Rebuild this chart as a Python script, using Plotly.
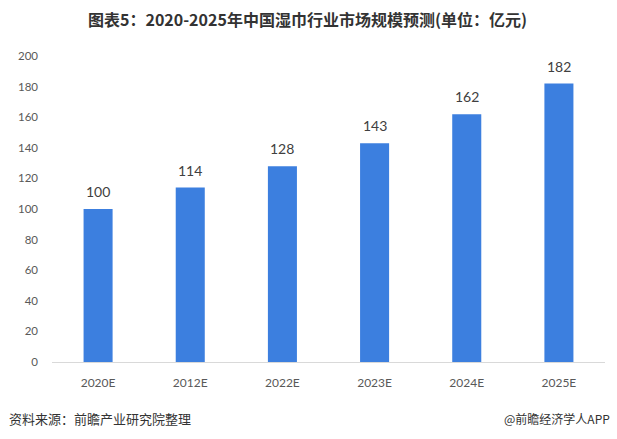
import plotly.graph_objects as go

categories = ["2020E", "2012E", "2022E", "2023E", "2024E", "2025E"]
values = [100, 114, 128, 143, 162, 182]
y_ticks = [0, 20, 40, 60, 80, 100, 120, 140, 160, 180, 200]

title_text = "图表5：2020-2025年中国湿巾行业市场规模预测(单位：亿元)"
source_text = "资料来源：前瞻产业研究院整理"
brand_text = "@前瞻经济学人APP"

W, H = 617, 439
L, R, T, B = 52, 12, 56, 77
PW, PH = W - L - R, H - T - B

fig = go.Figure(
    go.Bar(
        x=categories,
        y=values,
        marker=dict(color="#3c7fdf", line=dict(width=0)),
        width=0.315,
        hoverinfo="x+y",
    )
)

annotations = [
    dict(
        x=c, y=v, xref="x", yref="y",
        text=str(v), showarrow=False,
        yanchor="bottom", yshift=7,
        font=dict(family="Lato, sans-serif", size=14, color="#404040"),
    )
    for c, v in zip(categories, values)
]

annotations += [
    dict(
        text=source_text,
        xref="paper", yref="paper",
        x=-(L - 7) / PW, xanchor="left",
        y=-(418 - 362) / PH, yanchor="middle",
        showarrow=False,
        font=dict(family="Noto Sans CJK SC, sans-serif", size=13, color="#333333"),
    ),
    dict(
        text=brand_text,
        xref="paper", yref="paper",
        x=1 + (R - 5) / PW, xanchor="right",
        y=-(418 - 362) / PH, yanchor="middle",
        showarrow=False,
        font=dict(family="Noto Sans CJK SC, sans-serif", size=12, color="#333333"),
    ),
]

fig.update_layout(
    width=W,
    height=H,
    margin=dict(l=L, r=R, t=T, b=B, autoexpand=False),
    paper_bgcolor="white",
    plot_bgcolor="white",
    showlegend=False,
    font=dict(family="Noto Sans CJK SC, sans-serif"),
    title=dict(
        text="<b>" + title_text + "</b>",
        xref="container",
        x=307.5 / W,
        xanchor="center",
        yref="container",
        y=1 - 20 / H,
        yanchor="middle",
        font=dict(family="Noto Sans CJK SC, sans-serif", size=16, color="#333333"),
    ),
    xaxis=dict(
        showgrid=False,
        showline=True,
        linecolor="#d9d9d9",
        linewidth=1,
        ticks="",
        ticklabelstandoff=10,
        tickfont=dict(family="Lato, sans-serif", size=12, color="#595959"),
        fixedrange=True,
        automargin=False,
    ),
    yaxis=dict(
        range=[0, 200],
        tickvals=y_ticks,
        showgrid=False,
        showline=False,
        zeroline=False,
        ticks="",
        ticklabelstandoff=13,
        tickfont=dict(family="Lato, sans-serif", size=11.5, color="#595959"),
        fixedrange=True,
        automargin=False,
    ),
    annotations=annotations,
)

fig.write_html(
    "out.html",
    config={"displayModeBar": False},
    post_script="document.body.style.margin='0';document.body.style.padding='0';",
)
